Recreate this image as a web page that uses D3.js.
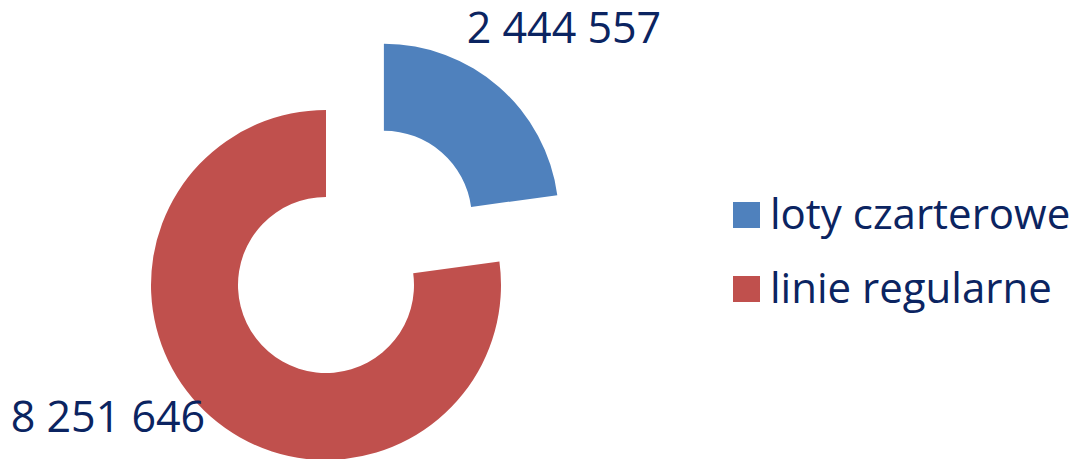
<!DOCTYPE html>
<html>
<head>
<meta charset="utf-8">
<script src="https://cdn.jsdelivr.net/npm/d3@7"></script>
<style>
  body { margin: 0; background: #fff; }
  svg text { font-family: "Open Sans", sans-serif; fill: #0b2461; }
</style>
</head>
<body>
<div id="chart"></div>
<script>
const categories = ["loty czarterowe", "linie regularne"];
const values = [2444557, 8251646];
const labels = ["2 444 557", "8 251 646"];
const colors = ["#4f81bd", "#c0504d"];

const width = 1077, height = 459;
const center = {x: 326, y: 285};
const outerR = 175, innerR = 88, explode = 88;
// label anchors (middle of text, baseline)
const labelPos = [{x: 564, y: 43}, {x: 108, y: 432}];

const data = categories.map((c, i) => ({name: c, value: values[i], label: labels[i], color: colors[i]}));

const svg = d3.select("#chart").append("svg")
  .attr("width", width)
  .attr("height", height);

const pie = d3.pie().sort(null).value(d => d.value);
const arc = d3.arc().innerRadius(innerR).outerRadius(outerR);
const arcs = pie(data);

const g = svg.append("g")
  .attr("transform", "translate(" + center.x + "," + center.y + ")");

// first slice pulled out along its mid angle
g.selectAll("path")
  .data(arcs)
  .enter().append("path")
  .attr("d", arc)
  .attr("fill", d => d.data.color)
  .attr("transform", (d, i) => {
    if (i !== 0) return null;
    const mid = (d.startAngle + d.endAngle) / 2;
    return "translate(" + (Math.sin(mid) * explode) + "," + (-Math.cos(mid) * explode) + ")";
  });

svg.selectAll(".dlabel")
  .data(arcs)
  .enter().append("text")
  .attr("class", "dlabel")
  .attr("x", (d, i) => labelPos[i].x)
  .attr("y", (d, i) => labelPos[i].y)
  .attr("text-anchor", "middle")
  .style("font-size", "43px")
  .text(d => d.data.label);

const legend = svg.selectAll(".legend")
  .data(data)
  .enter().append("g")
  .attr("class", "legend")
  .attr("transform", (d, i) => "translate(733," + (202 + i * 74) + ")");

legend.append("rect")
  .attr("width", 27)
  .attr("height", 26)
  .attr("fill", d => d.color);

legend.append("text")
  .attr("x", 37)
  .attr("y", 27)
  .style("font-size", "42px")
  .text(d => d.name);
</script>
</body>
</html>
